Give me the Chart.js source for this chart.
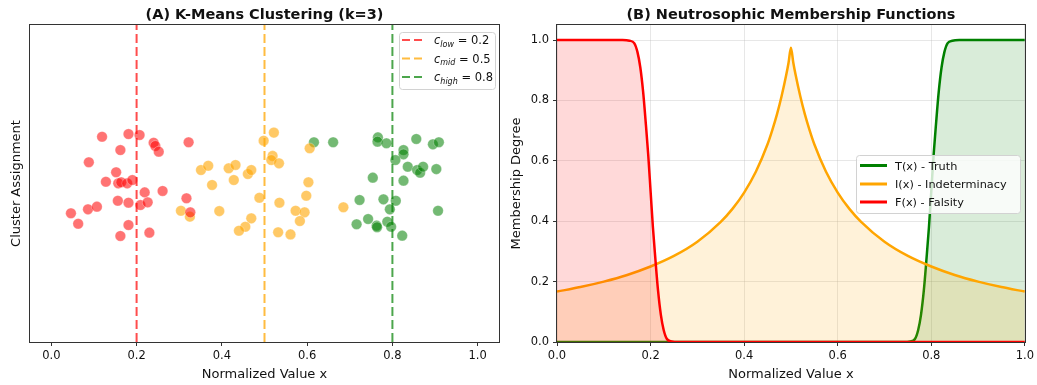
<!DOCTYPE html>
<html>
<head>
<meta charset="utf-8">
<script src="https://cdn.jsdelivr.net/npm/chart.js@4.4.1/dist/chart.umd.min.js"></script>
<style>
  body { margin: 0; background: #fff; }
  #wrap { position: relative; width: 1037px; height: 385px; }
  #c1 { position: absolute; left: 0; top: 0; }
  #c2 { position: absolute; left: 508px; top: 0; }
</style>
</head>
<body>
<div id="wrap">
  <canvas id="c1" width="508" height="385"></canvas>
  <canvas id="c2" width="529" height="385"></canvas>
</div>
<script>
// ---- data ----
const xTicks = [0, 0.2, 0.4, 0.6, 0.8, 1.0];
const yTicks = [0, 0.2, 0.4, 0.6, 0.8, 1.0];
const centroids = [0.2, 0.5, 0.8];
const centroidSubs = ["low", "mid", "high"];

// low cluster (red)
const lowX = [0.119, 0.181, 0.207, 0.240, 0.244, 0.252, 0.162, 0.322, 0.088, 0.152,
              0.128, 0.157, 0.164, 0.178, 0.190, 0.219, 0.261, 0.156, 0.181, 0.209,
              0.226, 0.317, 0.046, 0.086, 0.107, 0.063, 0.181, 0.162, 0.230, 0.326];
const lowY = [0.295, 0.312, 0.306, 0.257, 0.237, 0.201, 0.211, 0.260, 0.134, 0.071,
              0.011, 0.001, 0.008, 0.001, 0.022, -0.056, -0.047, -0.109, -0.121, -0.136,
              -0.119, -0.093, -0.188, -0.163, -0.146, -0.254, -0.262, -0.331, -0.310, -0.182];
// mid cluster (orange)
const midX = [0.498, 0.522, 0.519, 0.516, 0.534, 0.606, 0.351, 0.368, 0.416, 0.432,
              0.428, 0.377, 0.461, 0.469, 0.488, 0.304, 0.325, 0.394, 0.469, 0.455,
              0.440, 0.603, 0.535, 0.598, 0.573, 0.594, 0.583, 0.532, 0.561, 0.685];
const midY = [0.270, 0.321, 0.174, 0.148, 0.127, 0.222, 0.085, 0.112, 0.096, 0.117,
              0.022, -0.009, 0.060, 0.085, -0.090, -0.172, -0.209, -0.174, -0.220, -0.273,
              -0.298, 0.008, -0.121, -0.077, -0.172, -0.182, -0.237, -0.308, -0.321, -0.150];
// high cluster (green)
const highX = [0.616, 0.661, 0.766, 0.765, 0.786, 0.856, 0.895, 0.909, 0.826, 0.826,
               0.807, 0.836, 0.858, 0.865, 0.872, 0.903, 0.754, 0.826, 0.723, 0.779,
               0.808, 0.794, 0.907, 0.743, 0.716, 0.763, 0.764, 0.788, 0.797, 0.823];
const highY = [0.260, 0.260, 0.291, 0.264, 0.254, 0.281, 0.247, 0.260, 0.211, 0.184,
               0.148, 0.106, 0.085, 0.068, 0.106, 0.091, 0.037, 0.018, -0.104, -0.100,
               -0.109, -0.163, -0.172, -0.224, -0.257, -0.266, -0.276, -0.241, -0.273, -0.329];

// membership curves
const truthX = [0, 0.5, 0.74, 0.755, 0.765, 0.772, 0.778, 0.784, 0.79, 0.795, 0.8,
                0.805, 0.81, 0.816, 0.822, 0.828, 0.835, 0.845, 0.86, 0.9, 1.0];
const truthY = [0, 0, 0, 0.002, 0.01, 0.04, 0.09, 0.17, 0.28, 0.38, 0.5,
                0.62, 0.72, 0.83, 0.91, 0.96, 0.99, 0.998, 1, 1, 1];
const indetX = [0, 0.05, 0.1, 0.15, 0.2, 0.25, 0.3, 0.35, 0.375, 0.4, 0.425, 0.45,
                0.46, 0.47, 0.48, 0.49, 0.495, 0.5, 0.505, 0.51, 0.52, 0.53, 0.54,
                0.55, 0.575, 0.6, 0.625, 0.65, 0.7, 0.75, 0.8, 0.85, 0.9, 0.95, 1.0];
const indetY = [0.167, 0.182, 0.2, 0.222, 0.25, 0.285, 0.332, 0.398, 0.441, 0.495, 0.564, 0.655,
                0.701, 0.753, 0.814, 0.885, 0.926, 0.975, 0.926, 0.885, 0.814, 0.753, 0.701,
                0.655, 0.564, 0.495, 0.441, 0.398, 0.332, 0.285, 0.25, 0.222, 0.2, 0.182, 0.167];
const falsityX = [0, 0.1, 0.14, 0.155, 0.165, 0.172, 0.178, 0.184, 0.19, 0.195, 0.2,
                  0.205, 0.21, 0.216, 0.222, 0.228, 0.235, 0.245, 0.26, 0.5, 1.0];
const falsityY = [1, 1, 1, 0.998, 0.99, 0.96, 0.91, 0.83, 0.72, 0.62, 0.5,
                  0.38, 0.28, 0.17, 0.09, 0.04, 0.01, 0.002, 0, 0, 0];

// ---- helpers ----
Chart.defaults.font.family = '"DejaVu Sans", sans-serif';
Chart.defaults.color = "#111";

const FONT = '"DejaVu Sans", sans-serif';
const pts = (xs, ys) => xs.map((x, i) => ({ x: x, y: ys[i] }));
const fmt = (v) => Number(v).toFixed(1);

const frame = {
  id: "frame",
  afterDatasetsDraw(chart) {
    const a = chart.chartArea, ctx = chart.ctx;
    ctx.save();
    ctx.strokeStyle = "#333";
    ctx.lineWidth = 1;
    ctx.strokeRect(Math.round(a.left) - 0.5, Math.round(a.top) - 0.5,
                   Math.round(a.right - a.left) + 1, Math.round(a.bottom - a.top) + 1);
    ctx.restore();
  }
};

function topTitle(text) {
  return {
    id: "topTitle",
    afterDraw(chart) {
      const a = chart.chartArea, ctx = chart.ctx;
      ctx.save();
      ctx.font = "bold 14.5px " + FONT;
      ctx.fillStyle = "#111";
      ctx.textAlign = "center";
      ctx.fillText(text, (a.left + a.right) / 2, 19);
      ctx.restore();
    }
  };
}

function legendBox(ctx, x, y, w, h) {
  ctx.beginPath();
  ctx.roundRect(x + 0.5, y + 0.5, w, h, 3);
  ctx.fillStyle = "rgba(255,255,255,0.8)";
  ctx.fill();
  ctx.strokeStyle = "#d2d2d2";
  ctx.lineWidth = 1;
  ctx.stroke();
}

const lineColors = ["rgba(255,0,0,0.7)", "rgba(255,165,0,0.75)", "rgba(0,128,0,0.7)"];

const leftLegend = {
  id: "leftLegend",
  afterDraw(chart) {
    const ctx = chart.ctx;
    ctx.save();
    legendBox(ctx, 399, 32, 96, 57);
    const rows = [40, 58.5, 77];
    centroids.forEach((c, i) => {
      const y = rows[i];
      ctx.strokeStyle = lineColors[i];
      ctx.lineWidth = 2;
      ctx.setLineDash([8, 4]);
      ctx.beginPath();
      ctx.moveTo(402, y);
      ctx.lineTo(422, y);
      ctx.stroke();
      ctx.setLineDash([]);
      ctx.fillStyle = "#111";
      let tx = 434;
      ctx.font = "italic 11.5px " + FONT;
      ctx.fillText("c", tx, y + 4);
      tx += ctx.measureText("c").width;
      ctx.font = "italic 8px " + FONT;
      ctx.fillText(centroidSubs[i], tx, y + 6.5);
      tx += ctx.measureText(centroidSubs[i]).width;
      ctx.font = "11.5px " + FONT;
      ctx.fillText(" = " + c.toFixed(1), tx, y + 4);
    });
    ctx.restore();
  }
};

const rightLegend = {
  id: "rightLegend",
  afterDraw(chart) {
    const ctx = chart.ctx;
    const labels = ["T(x) - Truth", "I(x) - Indeterminacy", "F(x) - Falsity"];
    const colors = ["#008000", "#ffa500", "#ff0000"];
    ctx.save();
    legendBox(ctx, 348, 155, 164, 58);
    const rows = [165.5, 184, 202];
    labels.forEach((t, i) => {
      const y = rows[i];
      ctx.strokeStyle = colors[i];
      ctx.lineWidth = 3;
      ctx.beginPath();
      ctx.moveTo(352, y);
      ctx.lineTo(379, y);
      ctx.stroke();
      ctx.fillStyle = "#111";
      ctx.font = "11.3px " + FONT;
      ctx.fillText(t, 387, y + 4);
    });
    ctx.restore();
  }
};

// ---- (A) K-Means Clustering ----
const scatterSets = [
  { x: lowX, y: lowY, c: "rgba(255,0,0,0.55)" },
  { x: midX, y: midY, c: "rgba(255,165,0,0.6)" },
  { x: highX, y: highY, c: "rgba(0,128,0,0.55)" }
].map((s) => ({
  type: "scatter",
  data: pts(s.x, s.y),
  backgroundColor: s.c,
  borderColor: "rgba(255,255,255,0.35)",
  borderWidth: 0.8,
  pointRadius: 5.3,
  order: 2
}));

const centroidLines = centroids.map((c, i) => ({
  type: "scatter",
  data: [{ x: c, y: -1 }, { x: c, y: 1 }],
  showLine: true,
  borderColor: lineColors[i],
  borderWidth: 2,
  borderDash: [9, 4],
  pointRadius: 0,
  order: 1
}));

new Chart(document.getElementById("c1"), {
  type: "scatter",
  data: { datasets: scatterSets.concat(centroidLines) },
  options: {
    responsive: false,
    animation: false,
    devicePixelRatio: 1,
    layout: { padding: { top: 25, right: 9, left: 0, bottom: 0 } },
    plugins: { legend: { display: false }, tooltip: { enabled: false } },
    scales: {
      x: {
        type: "linear",
        min: -0.05,
        max: 1.05,
        afterBuildTicks: (s) => { s.ticks = xTicks.map((v) => ({ value: v })); },
        afterFit: (s) => { s.height = 43; },
        ticks: { callback: fmt, font: { size: 11.5 }, padding: 3, maxRotation: 0, autoSkip: false },
        grid: { drawOnChartArea: false, color: "#333", tickColor: "#333", tickLength: 4 },
        border: { display: false },
        title: { display: true, text: "Normalized Value x", font: { size: 13 }, padding: { top: 0, bottom: 3 } }
      },
      y: {
        min: -1,
        max: 1,
        afterFit: (s) => { s.width = 30; },
        ticks: { display: false },
        grid: { display: false },
        border: { display: false },
        title: { display: true, text: "Cluster Assignment", font: { size: 13 }, padding: { top: 9, bottom: 0 } }
      }
    }
  },
  plugins: [frame, topTitle("(A) K-Means Clustering (k=3)"), leftLegend]
});

// ---- (B) Neutrosophic Membership Functions ----
const curve = (xs, ys, line, fillCol, ord) => ({
  data: pts(xs, ys),
  showLine: true,
  borderColor: line,
  borderWidth: 2.5,
  backgroundColor: fillCol,
  fill: "origin",
  pointRadius: 0,
  cubicInterpolationMode: "monotone",
  order: ord
});

new Chart(document.getElementById("c2"), {
  type: "scatter",
  data: {
    datasets: [
      curve(truthX, truthY, "#008000", "rgba(0,128,0,0.15)", 3),
      curve(indetX, indetY, "#ffa500", "rgba(255,165,0,0.15)", 2),
      curve(falsityX, falsityY, "#ff0000", "rgba(255,0,0,0.15)", 1)
    ]
  },
  options: {
    responsive: false,
    animation: false,
    devicePixelRatio: 1,
    layout: { padding: { top: 25, right: 12, left: 0, bottom: 0 } },
    plugins: { legend: { display: false }, tooltip: { enabled: false } },
    scales: {
      x: {
        type: "linear",
        min: 0,
        max: 1,
        afterBuildTicks: (s) => { s.ticks = xTicks.map((v) => ({ value: v })); },
        afterFit: (s) => { s.height = 43; },
        ticks: { callback: fmt, font: { size: 11.5 }, padding: 3, maxRotation: 0, autoSkip: false },
        grid: { color: "rgba(176,176,176,0.3)", tickColor: "#333", tickLength: 4 },
        border: { display: false },
        title: { display: true, text: "Normalized Value x", font: { size: 13 }, padding: { top: 0, bottom: 3 } }
      },
      y: {
        min: 0,
        max: 1.05,
        afterBuildTicks: (s) => { s.ticks = yTicks.map((v) => ({ value: v })); },
        afterFit: (s) => { s.width = 49; },
        ticks: { callback: fmt, font: { size: 11.5 }, padding: 4 },
        grid: { color: "rgba(176,176,176,0.3)", tickColor: "#333", tickLength: 4 },
        border: { display: false },
        title: { display: true, text: "Membership Degree", font: { size: 13 }, padding: { top: 1, bottom: 0 } }
      }
    }
  },
  plugins: [frame, topTitle("(B) Neutrosophic Membership Functions"), rightLegend]
});
</script>
</body>
</html>
